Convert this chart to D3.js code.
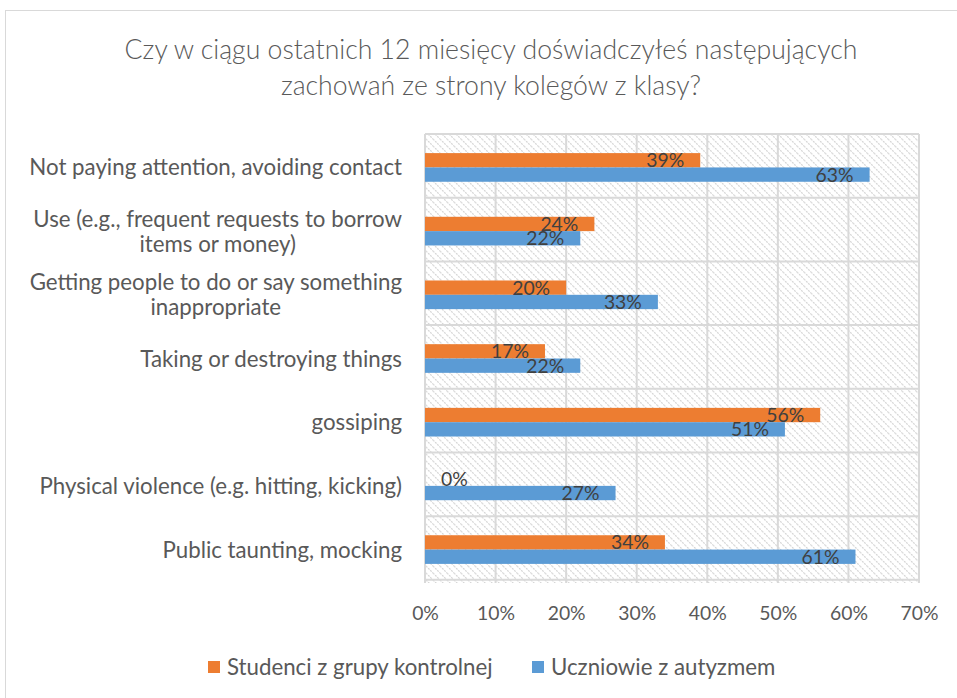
<!DOCTYPE html>
<html><head><meta charset="utf-8">
<script src="https://cdn.jsdelivr.net/npm/d3@7"></script>
<style>body{margin:0;background:#fff}svg{display:block}</style>
</head><body>
<svg id="c" width="957" height="698"></svg>
<script>
const categories = [
  ["Not paying attention, avoiding contact"],
  ["Use (e.g., frequent requests to borrow", "items or money)"],
  ["Getting people to do or say something", "inappropriate"],
  ["Taking or destroying things"],
  ["gossiping"],
  ["Physical violence (e.g. hitting, kicking)"],
  ["Public taunting, mocking"]
];
const seriesNames = ["Studenci z grupy kontrolnej", "Uczniowie z autyzmem"];
const studenci = [39, 24, 20, 17, 56, 0, 34];
const uczniowie = [63, 22, 33, 22, 51, 27, 61];
const tickValues = [0, 10, 20, 30, 40, 50, 60, 70];
const titleLines = ["Czy w ciągu ostatnich 12 miesięcy doświadczyłeś następujących", "zachowań ze strony kolegów z klasy?"];
const colors = ["#ED7D31", "#5B9BD5"];

const FONT = "Lato, 'Open Sans', sans-serif";
const svg = d3.select("#c");

function fitSize(text, target, weight) {
  const t = svg.append("text").attr("font-family", FONT).attr("font-size", 100)
    .attr("font-weight", weight || 400).text(text);
  const w = t.node().getComputedTextLength();
  t.remove();
  return 100 * target / w;
}

svg.append("rect").attr("x", 5.5).attr("y", 10.5).attr("width", 960).attr("height", 700)
  .attr("fill", "#fff").attr("stroke", "#d9d9d9").attr("stroke-width", 1);

const defs = svg.append("defs");
const pat = defs.append("pattern").attr("id", "hatch").attr("patternUnits", "userSpaceOnUse")
  .attr("width", 7).attr("height", 7);
pat.append("rect").attr("width", 7).attr("height", 7).attr("fill", "#fff");
pat.append("path").attr("d", "M-1,-1 L8,8 M-1,6 L1,8 M6,-1 L8,1")
  .attr("stroke", "#d6d6d6").attr("stroke-width", 1.2).attr("stroke-dasharray", "2,1");

const titleSize = fitSize(titleLines[0], 733, 300);
svg.append("g").selectAll("text").data(titleLines).join("text")
  .attr("x", 491).attr("y", (d, i) => 59 + i * 36)
  .attr("text-anchor", "middle").attr("font-family", FONT).attr("font-weight", 300)
  .attr("font-size", titleSize).attr("fill", "#595959").text(d => d);

const pLeft = 425, pRight = 919, pTop = 134, pBottom = 583;
const x = d3.scaleLinear().domain([0, 70]).range([pLeft, pRight]);
const y = d3.scaleBand().domain(d3.range(categories.length)).range([pTop, pBottom])
  .paddingInner(0.55).paddingOuter(0.3);
const ySub = d3.scaleBand().domain([0, 1]).range([0, y.bandwidth()]);
const step = y.step();

svg.append("rect").attr("x", pLeft).attr("y", pTop).attr("width", pRight - pLeft).attr("height", pBottom - pTop)
  .attr("fill", "url(#hatch)");

svg.append("g").selectAll("line").data(tickValues).join("line")
  .attr("x1", d => x(d)).attr("x2", d => x(d)).attr("y1", pTop).attr("y2", pBottom)
  .attr("stroke", "#d9d9d9").attr("stroke-width", 2);
const seps = d3.range(categories.length + 1).map(i => pTop + i * step);
svg.append("g").selectAll("line").data(seps).join("line")
  .attr("x1", pLeft).attr("x2", pRight).attr("y1", d => d).attr("y2", d => d)
  .attr("stroke", "#d9d9d9").attr("stroke-width", 2);

const data = [studenci, uczniowie];
const gBars = svg.append("g");
data.forEach((vals, s) => {
  gBars.selectAll(null).data(vals).join("rect")
    .attr("x", x(0)).attr("y", (d, i) => y(i) + ySub(s))
    .attr("width", d => x(d) - x(0)).attr("height", ySub.bandwidth())
    .attr("fill", colors[s]);
});

const labelSize = fitSize("63%", 38);
data.forEach((vals, s) => {
  gBars.selectAll(null).data(vals).join("text")
    .attr("font-family", FONT).attr("font-size", labelSize).attr("fill", "#404040")
    .attr("y", (d, i) => y(i) + ySub(s) + ySub.bandwidth() / 2)
    .attr("dy", "0.36em")
    .text(d => d + "%")
    .each(function(d) {
      const w = this.getComputedTextLength();
      const endX = x(d) - 16;
      if (endX - w < x(0) + 16) {
        d3.select(this).attr("x", x(0) + 16).attr("text-anchor", "start");
      } else {
        d3.select(this).attr("x", endX).attr("text-anchor", "end");
      }
    });
});

const catSize = fitSize(categories[0][0], 373);
const gCat = svg.append("g");
categories.forEach((lines, i) => {
  const cy = y(i) + y.bandwidth() / 2;
  const t = gCat.append("text").attr("font-family", FONT).attr("font-size", catSize).attr("fill", "#595959");
  const lh = 25;
  const spans = t.selectAll("tspan").data(lines).join("tspan")
    .attr("y", (d, k) => cy + (k - (lines.length - 1) / 2) * lh).attr("dy", "0.36em").text(d => d);
  const widths = spans.nodes().map(n => n.getComputedTextLength());
  const maxW = d3.max(widths);
  const center = 402 - maxW / 2;
  spans.attr("x", center).attr("text-anchor", "middle");
});

const axis = d3.axisBottom(x).tickValues(tickValues).tickFormat(d => d + "%").tickSize(0).tickPadding(0);
const gAxis = svg.append("g").attr("transform", `translate(0,${pBottom})`).call(axis);
gAxis.select(".domain").remove();
gAxis.selectAll("text").attr("font-family", FONT).attr("font-size", labelSize).attr("fill", "#595959")
  .attr("y", 30).attr("dy", "0.36em");

const legendX = [208, 532];
const lg = svg.append("g");
seriesNames.forEach((n, s) => {
  lg.append("rect").attr("x", legendX[s]).attr("y", 661).attr("width", 12).attr("height", 12).attr("fill", colors[s]);
  lg.append("text").attr("x", legendX[s] + 19).attr("y", 667).attr("dy", "0.36em")
    .attr("font-family", FONT).attr("font-size", catSize).attr("fill", "#595959").text(n);
});
</script>
</body></html>
